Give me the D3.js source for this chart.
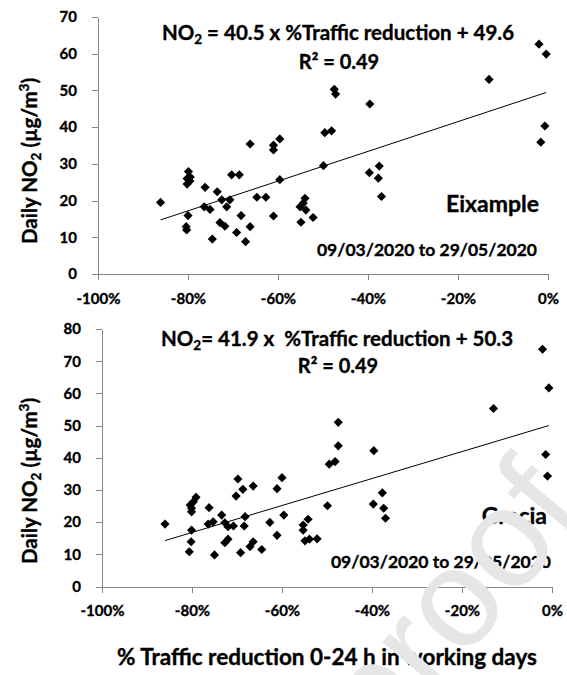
<!DOCTYPE html>
<html>
<head>
<meta charset="utf-8">
<script src="https://cdn.jsdelivr.net/npm/d3@7/dist/d3.min.js"></script>
<style>
body { margin:0; background:#fff; }
svg text { font-family: Lato, "Open Sans", sans-serif; font-weight:700; fill:#000; stroke:#000; stroke-width:0.35px; white-space:pre; }
.axis path, .axis line { stroke:#868686; stroke-width:1; shape-rendering:crispEdges; }
.axis text { font-size:15px; }
</style>
</head>
<body>
<svg id="chart" width="567" height="675"></svg>
<script>
var xTickValues = [-1, -0.8, -0.6, -0.4, -0.2, 0];
var xTickLabels = ["-100%", "-80%", "-60%", "-40%", "-20%", "0%"];

var eixampleYTicks = [0, 10, 20, 30, 40, 50, 60, 70];
var graciaYTicks = [0, 10, 20, 30, 40, 50, 60, 70, 80];

var eixampleTraffic = [-0.861,-0.800,-0.804,-0.803,-0.799,-0.802,-0.796,-0.802,-0.795,-0.762,
	-0.764,-0.751,-0.746,-0.735,-0.729,-0.718,-0.725,-0.714,-0.707,-0.703,
	-0.686,-0.682,-0.692,-0.672,-0.662,-0.662,-0.647,-0.627,-0.610,-0.610,
	-0.596,-0.610,-0.596,-0.499,-0.496,-0.481,-0.475,-0.472,-0.551,-0.544,
	-0.540,-0.538,-0.549,-0.522,-0.396,-0.397,-0.375,-0.377,-0.370,-0.131,
	-0.020,-0.004,-0.007,-0.016];
var eixampleNO2 = [19.5,15.9,12.9,12.0,27.9,26.0,25.3,24.5,26.4,23.6,
	18.3,17.6,9.5,22.4,14.0,13.0,20.2,18.3,20.2,27.0,
	27.0,15.9,11.3,8.8,12.9,35.4,20.9,20.9,35.1,33.8,
	36.8,15.8,25.7,29.5,38.5,39.0,50.3,49.0,18.3,19.3,
	20.6,17.4,14.1,15.4,46.3,27.6,29.4,26.1,21.1,53.0,
	62.6,59.9,40.3,35.9];

var graciaTraffic = [-0.860,-0.801,-0.802,-0.806,-0.804,-0.801,-0.797,-0.791,-0.801,-0.762,
	-0.764,-0.753,-0.750,-0.734,-0.727,-0.720,-0.708,-0.727,-0.720,-0.698,
	-0.687,-0.702,-0.682,-0.684,-0.692,-0.664,-0.671,-0.664,-0.645,-0.627,
	-0.611,-0.611,-0.600,-0.596,-0.499,-0.475,-0.475,-0.495,-0.482,-0.396,
	-0.377,-0.397,-0.374,-0.370,-0.553,-0.542,-0.553,-0.549,-0.539,-0.522,
	-0.130,-0.021,-0.007,-0.014,-0.010];
var graciaNO2 = [19.4,17.5,13.9,10.8,25.3,24.3,26.3,27.7,23.2,24.5,
	19.4,20.1,9.8,22.2,19.8,18.6,18.8,13.6,14.7,33.4,
	30.2,28.1,21.7,18.8,10.5,31.2,12.4,13.9,11.5,19.9,
	30.4,15.9,33.8,22.2,25.1,51.0,43.7,38.0,38.8,42.2,
	29.1,25.6,24.3,21.2,19.1,20.9,17.5,14.2,14.7,14.8,
	55.3,73.7,61.7,41.0,34.3];

// slope, intercept of the fitted lines
var eixampleFit = [40.5, 49.6];
var graciaFit = [41.9, 50.3];

var panels = [
	{ name:"Eixample", xs:eixampleTraffic, ys:eixampleNO2, fit:eixampleFit, yTicks:eixampleYTicks,
	  left:98, right:548, top:17, bottom:274,
	  eqPre:"NO", eqPost:" = 40.5 x %Traffic reduction + 49.6", r2:"R² = 0.49",
	  eqX:338, eqY:40, r2Y:69, labelX:539, labelY:212, dateX:537, dateY:256, yTitleY:161 },
	{ name:"Gracia", xs:graciaTraffic, ys:graciaNO2, fit:graciaFit, yTicks:graciaYTicks,
	  left:102, right:552, top:329, bottom:586.5,
	  eqPre:"NO", eqPost:"= 41.9 x  %Traffic reduction + 50.3", r2:"R² = 0.49",
	  eqX:337, eqY:346, r2Y:373, labelX:547, labelY:524, dateX:551, dateY:568, yTitleY:481 }
];

var svg = d3.select("#chart");

function renderPanel(p)
{
	var g = svg.append("g").attr("class", "panel");
	var x = d3.scaleLinear().domain([-1, 0]).range([p.left, p.right]);
	var y = d3.scaleLinear().domain([0, d3.max(p.yTicks)]).range([p.bottom, p.top]);

	g.append("g")
		.attr("class", "axis")
		.attr("transform", "translate(0," + p.bottom + ")")
		.call(d3.axisBottom(x).tickValues(xTickValues)
			.tickFormat(function(d, i){ return xTickLabels[i]; })
			.tickSize(6).tickSizeOuter(0).tickPadding(13));

	g.append("g")
		.attr("class", "axis")
		.attr("transform", "translate(" + p.left + ",0)")
		.call(d3.axisLeft(y).tickValues(p.yTicks).tickSize(6).tickSizeOuter(0).tickPadding(15));

	g.selectAll(".axis text").style("fill", "#000");
	g.selectAll(".axis").select(".domain").attr("stroke", "#868686");

	// trend line over the data range
	var x0 = d3.min(p.xs), x1 = d3.max(p.xs);
	g.append("line")
		.attr("x1", x(x0)).attr("y1", y(p.fit[0]*x0 + p.fit[1]))
		.attr("x2", x(x1)).attr("y2", y(p.fit[0]*x1 + p.fit[1]))
		.attr("stroke", "#000").attr("stroke-width", 1);

	var diamond = d3.symbol().type(d3.symbolSquare).size(42);
	g.selectAll("path.pt")
		.data(d3.range(p.xs.length)).enter()
		.append("path")
		.attr("class", "pt")
		.attr("d", diamond)
		.attr("transform", function(i){
			return "translate(" + x(p.xs[i]) + "," + y(p.ys[i]) + ") rotate(45)";
		})
		.attr("fill", "#000");

	var eq = g.append("text")
		.attr("x", p.eqX).attr("y", p.eqY)
		.attr("text-anchor", "middle")
		.style("font-size", "20.5px");
	eq.append("tspan").text(p.eqPre);
	eq.append("tspan").attr("dy", 4).style("font-size", "13.5px").text("2");
	eq.append("tspan").attr("dy", -4).text(p.eqPost);

	g.append("text")
		.attr("x", p.eqX + 1).attr("y", p.r2Y)
		.attr("text-anchor", "middle")
		.style("font-size", "20px")
		.text(p.r2);

	g.append("text")
		.attr("x", p.labelX).attr("y", p.labelY)
		.attr("text-anchor", "end")
		.style("font-size", "23px")
		.text(p.name);

	g.append("text")
		.attr("x", p.dateX).attr("y", p.dateY)
		.attr("text-anchor", "end")
		.style("font-size", "17.5px")
		.text("09/03/2020 to 29/05/2020");

	var yt = g.append("text")
		.attr("transform", "translate(37," + p.yTitleY + ") rotate(-90)")
		.attr("text-anchor", "middle")
		.style("font-size", "20.5px");
	yt.append("tspan").text("Daily NO");
	yt.append("tspan").attr("dy", 4).style("font-size", "13.5px").text("2");
	yt.append("tspan").attr("dy", -4).text(" (µg/m");
	yt.append("tspan").attr("dy", -8).style("font-size", "13.5px").text("3");
	yt.append("tspan").attr("dy", 8).text(")");
}

panels.forEach(renderPanel);

svg.append("text")
	.attr("x", 327).attr("y", 665)
	.attr("text-anchor", "middle")
	.style("font-size", "22.5px")
	.text("% Traffic reduction 0-24 h in working days");

// watermark of the proof copy
svg.append("text")
	.attr("transform", "translate(560,489) rotate(-50)")
	.attr("text-anchor", "end")
	.attr("dy", "0.26em")
	.style("font-family", "'Liberation Sans', Arial, sans-serif")
	.style("font-weight", "400")
	.style("font-size", "140px")
	.style("fill", "#e6e6e6")
	.style("stroke", "none")
	.text("Journal Pre-proof");
</script>
</body>
</html>
